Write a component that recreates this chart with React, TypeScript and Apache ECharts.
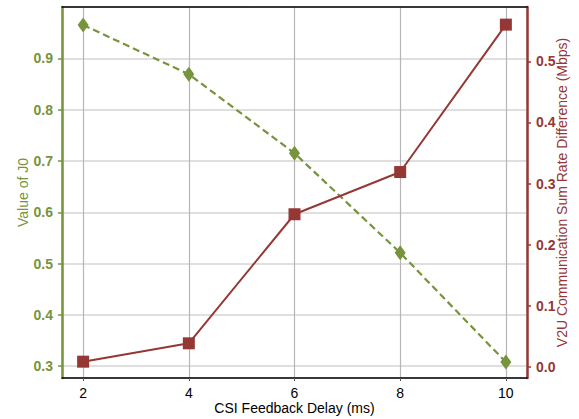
import React, { useEffect, useRef } from "react";
import * as echarts from "echarts";

const delays = [2, 4, 6, 8, 10];
const j0Values = [0.965, 0.869, 0.715, 0.521, 0.308];
const rateDiff = [0.009, 0.039, 0.25, 0.319, 0.56];

const GREEN = "#77933c";
const RED = "#953735";
const FONT = 'Arial, "Liberation Sans", sans-serif';

export default function App() {
  const ref = useRef<HTMLDivElement>(null);
  useEffect(() => {
    if (!ref.current) return;
    const chart = echarts.init(ref.current, null, { renderer: "svg" });
    chart.setOption({
      animation: false,
      textStyle: { fontFamily: FONT },
      grid: {
        left: 62,
        top: 7,
        width: 465,
        height: 371,
        containLabel: false,
        outerBoundsMode: "none",
      },
      xAxis: [
        {
          type: "value",
          min: 1.6,
          max: 10.4,
          splitNumber: 4,
          position: "bottom",
          name: "CSI Feedback Delay (ms)",
          nameLocation: "middle",
          nameGap: 23,
          nameMoveOverlap: false,
          nameTextStyle: { color: "#000", fontSize: 14, fontFamily: FONT },
          axisLine: { onZero: false, lineStyle: { color: "#000", width: 1.5 } },
          axisTick: { show: true, length: 3, lineStyle: { color: "#555" } },
          axisLabel: {
            color: "#000",
            fontSize: 14,
            margin: 8,
            fontFamily: FONT,
            showMinLabel: false,
            showMaxLabel: false,
          },
          splitLine: { show: true, lineStyle: { color: "#b5b5b5", width: 1.2 } },
        },
        {
          type: "value",
          min: 1.6,
          max: 10.4,
          position: "top",
          axisLine: { show: true, onZero: false, lineStyle: { color: "#000", width: 1.5 } },
          axisTick: { show: false },
          axisLabel: { show: false },
          splitLine: { show: false },
        },
      ],
      yAxis: [
        {
          type: "value",
          position: "left",
          min: 0.277,
          max: 1.0,
          splitNumber: 7,
          name: "Value of J0",
          nameLocation: "middle",
          nameRotate: 90,
          nameGap: 32,
          nameMoveOverlap: false,
          nameTextStyle: { color: GREEN, fontSize: 14, fontFamily: FONT },
          axisLine: { show: true, onZero: false, lineStyle: { color: GREEN, width: 2.5 } },
          axisTick: { show: true, length: 4, lineStyle: { color: GREEN, width: 1.5 } },
          axisLabel: {
            color: GREEN,
            fontWeight: "bold",
            fontSize: 14,
            margin: 9,
            fontFamily: FONT,
            showMinLabel: false,
            showMaxLabel: false,
            formatter: (v: number) => v.toFixed(1),
          },
          splitLine: { show: true, lineStyle: { color: "#d4d4d4", width: 1.5 } },
        },
        {
          type: "value",
          position: "right",
          min: -0.0177,
          max: 0.5888,
          splitNumber: 6,
          name: "V2U Communication Sum Rate Difference (Mbps)",
          nameLocation: "middle",
          nameRotate: 90,
          nameGap: 28,
          nameMoveOverlap: false,
          nameTextStyle: { color: RED, fontSize: 14, fontFamily: FONT },
          axisLine: { show: true, onZero: false, lineStyle: { color: RED, width: 2.5 } },
          axisTick: { show: true, length: 4, lineStyle: { color: RED, width: 1.5 } },
          axisLabel: {
            color: RED,
            fontWeight: "bold",
            fontSize: 14,
            margin: 9,
            fontFamily: FONT,
            showMinLabel: false,
            showMaxLabel: false,
            formatter: (v: number) => v.toFixed(1),
          },
          splitLine: { show: false },
        },
      ],
      series: [
        {
          type: "line",
          name: "J0",
          xAxisIndex: 0,
          yAxisIndex: 0,
          data: delays.map((d, i) => [d, j0Values[i]]),
          symbol: "diamond",
          symbolSize: [11, 15],
          itemStyle: { color: GREEN },
          lineStyle: { color: GREEN, width: 2.2, type: [7, 4] },
          z: 3,
        },
        {
          type: "line",
          name: "Rate",
          xAxisIndex: 0,
          yAxisIndex: 1,
          data: delays.map((d, i) => [d, rateDiff[i]]),
          symbol: "rect",
          symbolSize: 12,
          itemStyle: { color: RED },
          lineStyle: { color: RED, width: 2 },
          z: 4,
        },
      ],
    });
    return () => chart.dispose();
  }, []);
  return (
    <div
      ref={ref}
      style={{ position: "fixed", left: 0, top: 0, width: 579, height: 419, background: "#fff" }}
    />
  );
}
